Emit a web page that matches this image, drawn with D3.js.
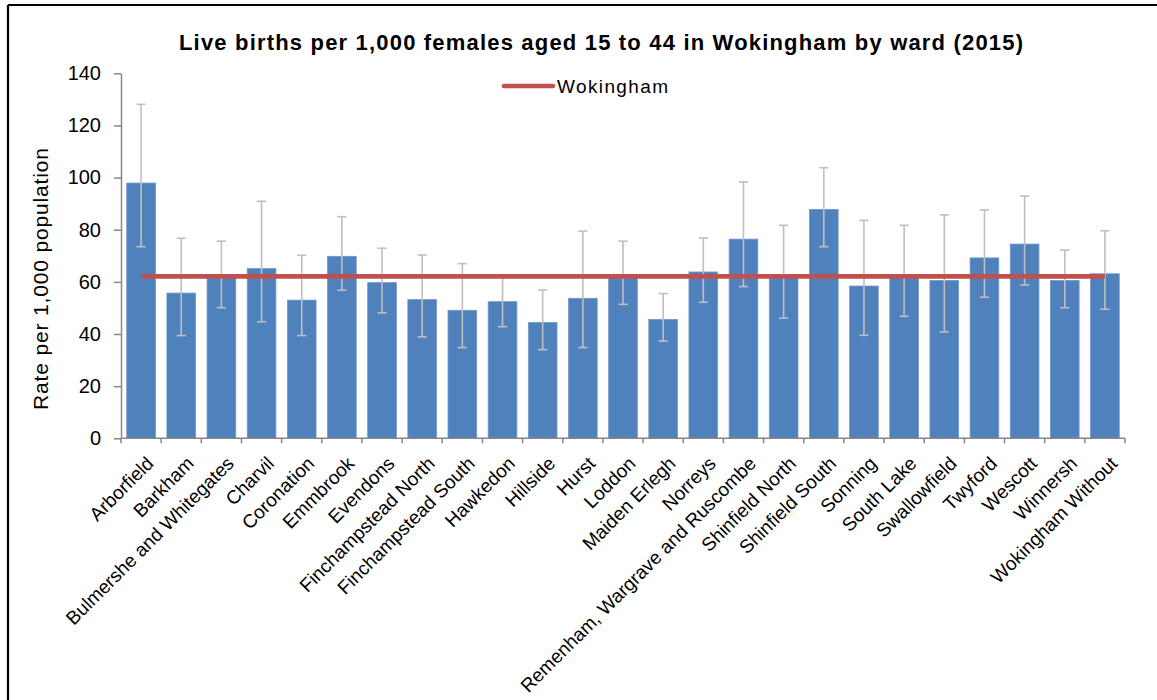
<!DOCTYPE html>
<html>
<head>
<meta charset="utf-8">
<script src="https://cdn.jsdelivr.net/npm/d3@7"></script>
<style>
  html, body { margin: 0; padding: 0; background: #fff; }
  svg { display: block; }
</style>
</head>
<body>
<svg id="chart" width="1157" height="700"></svg>
<script>
const wards = ["Arborfield","Barkham","Bulmershe and Whitegates","Charvil","Coronation","Emmbrook","Evendons","Finchampstead North","Finchampstead South","Hawkedon","Hillside","Hurst","Loddon","Maiden Erlegh","Norreys","Remenham, Wargrave and Ruscombe","Shinfield North","Shinfield South","Sonning","South Lake","Swallowfield","Twyford","Wescott","Winnersh","Wokingham Without"];
const rate  = [97.9, 55.7, 62.3, 65.1, 53.0, 69.8, 59.7, 53.2, 49.1, 52.4, 44.4, 53.7, 61.8, 45.6, 63.8, 76.4, 61.9, 87.8, 58.4, 62.0, 60.5, 69.2, 74.5, 60.5, 63.1];
const upper = [128.1, 76.7, 75.6, 90.9, 70.2, 85.0, 72.9, 70.3, 67.0, 62.5, 56.9, 79.5, 75.6, 55.5, 76.8, 98.3, 81.7, 103.8, 83.6, 81.7, 85.7, 87.6, 92.9, 72.2, 79.6];
const lower = [73.5, 39.4, 50.1, 44.7, 39.4, 56.8, 48.1, 38.9, 34.8, 42.8, 34.0, 34.8, 51.4, 37.3, 52.2, 58.2, 46.1, 73.5, 39.5, 46.8, 40.8, 54.1, 58.8, 50.1, 49.5];
const wokinghamRate = 62.1;
const yTicks = [0, 20, 40, 60, 80, 100, 120, 140];
const titleText = "Live births per 1,000 females aged 15 to 44 in Wokingham by ward (2015)";
const yTitle = "Rate per 1,000 population";
const legendLabel = "Wokingham";

(function () {
const svg = d3.select("#chart");
const pLeft = 121, pRight = 1125, pTop = 73.3, pBottom = 438.3;
const font = "'Liberation Sans', Arial, sans-serif";

// frame
svg.append("line").attr("x1", 8).attr("x2", 1157).attr("y1", 5).attr("y2", 5).attr("stroke", "#000").attr("stroke-width", 2.2);
svg.append("line").attr("x1", 8).attr("x2", 8).attr("y1", 5).attr("y2", 700).attr("stroke", "#000").attr("stroke-width", 2.2);

const x = d3.scaleBand().domain(wards).range([pLeft, pRight]).paddingInner(2/7).paddingOuter(1/7);
const y = d3.scaleLinear().domain([0, 140]).range([pBottom, pTop]);
const cx = d => x(d) + x.bandwidth() / 2;

// bars
svg.append("g").selectAll("rect").data(wards).join("rect")
  .attr("x", d => x(d))
  .attr("width", x.bandwidth())
  .attr("y", (d, i) => y(rate[i]))
  .attr("height", (d, i) => y(0) - y(rate[i]))
  .attr("fill", "#4f81bd")
  .attr("stroke", "#7097cc").attr("stroke-width", 0.8);

// error bars
const eb = svg.append("g").attr("stroke", "#bfbfbf").attr("stroke-width", 1.6).attr("fill", "none");
wards.forEach((w, i) => {
  const c = cx(w);
  eb.append("line").attr("x1", c).attr("x2", c).attr("y1", y(upper[i])).attr("y2", y(lower[i]));
  eb.append("line").attr("x1", c - 4.6).attr("x2", c + 4.6).attr("y1", y(upper[i])).attr("y2", y(upper[i]));
  eb.append("line").attr("x1", c - 4.6).attr("x2", c + 4.6).attr("y1", y(lower[i])).attr("y2", y(lower[i]));
});

// y axis
const yAxis = svg.append("g").attr("transform", `translate(${pLeft},0)`)
  .call(d3.axisLeft(y).tickValues(yTicks).tickSize(7).tickSizeOuter(0).tickPadding(13));
yAxis.selectAll("path, line").attr("stroke", "#868686").attr("stroke-width", 1.5);
yAxis.selectAll("text").attr("font-family", font).attr("font-size", 20).attr("fill", "#000");

// x axis
const xAxisG = svg.append("g");
xAxisG.append("line").attr("x1", pLeft).attr("x2", pRight).attr("y1", y(0)).attr("y2", y(0)).attr("stroke", "#868686").attr("stroke-width", 1.5);
const step = x.step();
d3.range(wards.length + 1).forEach(i => {
  const xx = pLeft + i * step;
  xAxisG.append("line").attr("x1", xx).attr("x2", xx).attr("y1", y(0)).attr("y2", y(0) + 5).attr("stroke", "#868686").attr("stroke-width", 1.5);
});
svg.append("g").selectAll("text").data(wards).join("text")
  .attr("transform", d => `translate(${cx(d) + 4},${455}) rotate(-45)`)
  .attr("text-anchor", "end")
  .attr("dy", "0.72em")
  .attr("font-family", font)
  .attr("font-size", 19)
  .attr("fill", "#000")
  .text(d => d);

// Wokingham line
svg.append("line")
  .attr("x1", cx(wards[0])).attr("x2", cx(wards[wards.length - 1]))
  .attr("y1", y(wokinghamRate)).attr("y2", y(wokinghamRate))
  .attr("stroke", "#c0504d").attr("stroke-width", 4.6);

// title
svg.append("text").attr("x", 601).attr("y", 50).attr("text-anchor", "middle")
  .attr("font-family", font).attr("font-weight", "bold").attr("font-size", 22)
  .attr("textLength", 844).attr("lengthAdjust", "spacing")
  .attr("fill", "#000").text(titleText);

// y title
svg.append("text").attr("transform", "translate(48,279) rotate(-90)").attr("text-anchor", "middle")
  .attr("font-family", font).attr("font-size", 21)
  .attr("textLength", 262).attr("lengthAdjust", "spacing")
  .attr("fill", "#000").text(yTitle);

// legend
svg.append("line").attr("x1", 504).attr("x2", 553).attr("y1", 86).attr("y2", 86)
  .attr("stroke", "#c0504d").attr("stroke-width", 4.6).attr("stroke-linecap", "round");
svg.append("text").attr("x", 557).attr("y", 93)
  .attr("font-family", font).attr("font-size", 19)
  .attr("textLength", 111).attr("lengthAdjust", "spacing")
  .attr("fill", "#000").text(legendLabel);
})();
</script>
</body>
</html>
